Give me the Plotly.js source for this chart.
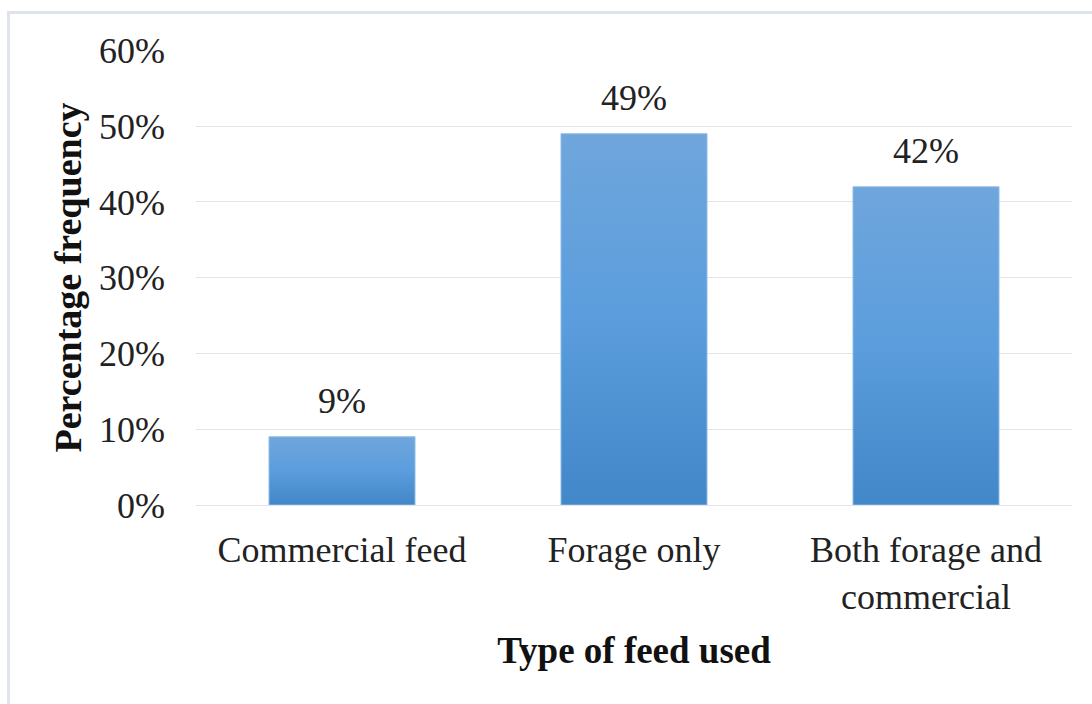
<!DOCTYPE html>
<html>
<head>
<meta charset="utf-8">
<script src="https://cdn.plot.ly/plotly-3.0.1.min.js"></script>
<style>
  html, body { margin: 0; padding: 0; background: #fff; }
  #frame { position: absolute; left: 0; top: 0; width: 1092px; height: 704px; }
  #edge { position: absolute; left: 7px; top: 11px; right: 0; bottom: 0;
          border-top: 3px solid #dfe3ea; border-left: 3px solid #dfe3ea; pointer-events: none; }
  #chart { position: absolute; left: 0; top: 0; width: 1092px; height: 704px; }
</style>
</head>
<body>
<div id="frame">
  <div id="chart"></div>
  <div id="edge"></div>
</div>
<script>
// Feed types and share of respondents using each
const feedTypes = ["Commercial feed", "Forage only", "Both forage and<br>commercial"];
const shares = [0.09, 0.49, 0.42];
const shareLabels = ["9%", "49%", "42%"];

const serif = "'Liberation Serif', 'Times New Roman', serif";

const trace = {
  type: "bar",
  x: feedTypes,
  y: shares,
  marker: { color: "#5b9bd5", line: { color: "#8fbbe6", width: 1 } },
  hoverinfo: "skip"
};

const labels = feedTypes.map((c, i) => ({
  x: c, y: shares[i], text: shareLabels[i],
  xref: "x", yref: "y", showarrow: false,
  yanchor: "bottom", yshift: 14,
  font: { family: serif, size: 36, color: "#222" }
}));

const layout = {
  width: 1092, height: 704,
  margin: { l: 196, r: 20, t: 50, b: 199 },
  paper_bgcolor: "rgba(0,0,0,0)",
  plot_bgcolor: "#fff",
  bargap: 0.5,
  showlegend: false,
  font: { family: serif, size: 36, color: "#222" },
  xaxis: {
    type: "category",
    showgrid: false, showline: false, ticks: "",
    ticklabelstandoff: 20,
    tickfont: { family: serif, size: 36, color: "#222" },
    title: { text: "<b>Type of feed used</b>", standoff: 21,
             font: { family: serif, size: 37, color: "#111" } }
  },
  yaxis: {
    range: [0, 0.6006], dtick: 0.1, tickformat: ".0%",
    showgrid: true, gridcolor: "#e1e5ea", gridwidth: 1,
    zeroline: true, zerolinecolor: "#e1e5ea", zerolinewidth: 1,
    showline: false, ticks: "",
    ticklabelstandoff: 30,
    tickfont: { family: serif, size: 36, color: "#222" },
    title: { text: "<b>Percentage frequency</b>", standoff: 5,
             font: { family: serif, size: 38, color: "#111" } }
  },
  annotations: labels
};

function shadeBars(gd) {
  const svg = gd.querySelector("svg.main-svg");
  if (!svg) return;
  const ns = "http://www.w3.org/2000/svg";
  let defs = svg.querySelector("defs");
  if (!svg.querySelector("#barShade")) {
    const g = document.createElementNS(ns, "linearGradient");
    g.setAttribute("id", "barShade");
    g.setAttribute("x1", "0"); g.setAttribute("y1", "0");
    g.setAttribute("x2", "0"); g.setAttribute("y2", "1");
    [["0", "#6fa6dc"], ["0.5", "#5b9ddd"], ["1", "#4287c8"]].forEach(([o, c]) => {
      const s = document.createElementNS(ns, "stop");
      s.setAttribute("offset", o); s.setAttribute("stop-color", c);
      g.appendChild(s);
    });
    defs.appendChild(g);
  }
  gd.querySelectorAll(".bars .point path").forEach(p => {
    p.style.fill = "url(#barShade)";
  });
}

const gd = document.getElementById("chart");
Plotly.newPlot(gd, [trace], layout, { displayModeBar: false, staticPlot: true })
  .then(() => { shadeBars(gd); gd.on("plotly_afterplot", () => shadeBars(gd)); });
</script>
</body>
</html>
